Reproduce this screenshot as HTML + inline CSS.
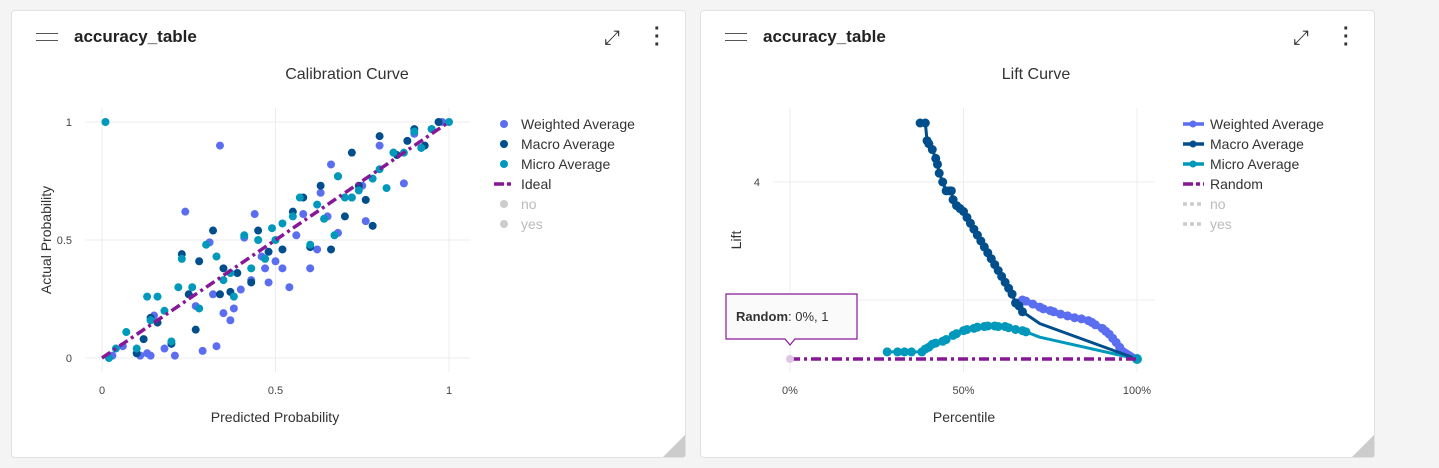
<!DOCTYPE html>
<html><head><meta charset="utf-8">
<style>
body{margin:0;width:1439px;height:468px;background:#f4f4f4;font-family:"Liberation Sans",sans-serif;overflow:hidden;position:relative}
.card{position:absolute;top:10px;height:446px;background:#fff;border:1px solid #e1e1e1;border-radius:4px}
.hdr{position:absolute;left:62px;top:16px;font-size:17px;font-weight:bold;color:#222}
.ham{position:absolute;left:24px;top:22px;width:22px;height:6px;border-top:1.5px solid #555;border-bottom:1.5px solid #555}
.exp{position:absolute;top:16px;font-size:20px;color:#333}
.dots{position:absolute;top:14px;font-size:20px;font-weight:bold;color:#333;line-height:8px;width:6px}
.corner{position:absolute;right:0;bottom:0;width:0;height:0;border-left:22px solid transparent;border-bottom:22px solid #ccc}
svg{position:absolute;left:0;top:0}
</style></head><body>
<div class="card" style="left:11px;width:673px">
 <div class="ham"></div>
 <div class="hdr">accuracy_table</div>
 <div class="exp" style="left:592px">⤢</div>
 <div class="dots" style="left:642px">·<br>·<br>·</div>
 <div class="corner"></div>
</div>
<div class="card" style="left:700px;width:673px">
 <div class="ham"></div>
 <div class="hdr">accuracy_table</div>
 <div class="exp" style="left:592px">⤢</div>
 <div class="dots" style="left:642px">·<br>·<br>·</div>
 <div class="corner"></div>
</div>
<svg id="s" width="1439" height="468"></svg>
<script>
// Calibration data
const calTicks=[0,0.5,1];
const wX=[0.03,0.06,0.11,0.13,0.14,0.15,0.18,0.21,0.24,0.27,0.29,0.31,0.32,0.33,0.34,0.35,0.37,0.38,0.4,0.41,0.43,0.44,0.46,0.47,0.48,0.5,0.52,0.54,0.56,0.58,0.6,0.62,0.63,0.65,0.66,0.68,0.72,0.75,0.76,0.8,0.84,0.87,0.9,0.95,0.98];
const wY=[0.01,0.05,0.01,0.02,0.01,0.18,0.04,0.01,0.62,0.22,0.03,0.49,0.27,0.05,0.9,0.19,0.16,0.21,0.29,0.51,0.33,0.61,0.43,0.38,0.32,0.41,0.38,0.3,0.52,0.61,0.38,0.46,0.7,0.6,0.82,0.53,0.68,0.73,0.58,0.9,0.87,0.74,0.95,0.97,1.0];
const mX=[0.1,0.12,0.14,0.16,0.2,0.23,0.25,0.27,0.28,0.32,0.34,0.35,0.37,0.39,0.43,0.45,0.48,0.52,0.55,0.58,0.6,0.63,0.66,0.68,0.7,0.72,0.74,0.76,0.78,0.8,0.85,0.88,0.9,0.93,0.97];
const mY=[0.02,0.08,0.17,0.15,0.06,0.44,0.27,0.12,0.41,0.54,0.27,0.38,0.28,0.36,0.32,0.54,0.45,0.46,0.62,0.68,0.47,0.73,0.46,0.77,0.6,0.87,0.73,0.67,0.56,0.94,0.86,0.92,0.97,0.9,1.0];
const iX=[0.01,0.02,0.04,0.07,0.1,0.13,0.14,0.16,0.18,0.2,0.22,0.23,0.26,0.28,0.3,0.33,0.35,0.37,0.38,0.41,0.43,0.45,0.47,0.49,0.5,0.52,0.55,0.57,0.6,0.62,0.64,0.67,0.68,0.7,0.72,0.74,0.78,0.8,0.82,0.84,0.87,0.9,0.92,0.95,1.0];
const iY=[1.0,0.0,0.04,0.11,0.04,0.26,0.16,0.26,0.2,0.07,0.3,0.42,0.3,0.21,0.48,0.43,0.33,0.36,0.26,0.52,0.38,0.5,0.42,0.55,0.5,0.57,0.6,0.68,0.48,0.65,0.59,0.52,0.77,0.68,0.68,0.71,0.76,0.8,0.72,0.87,0.87,0.96,0.89,0.97,1.0];
// Lift data
const liftTicks=[2,4];
const pctTicks=[0,50,100];
const macX=[37.5,39,39.5,40,41,42,42.5,43,44,45,46,46.5,47,48,49,50,51,52,53,54,55,56,57,58,59,60,61,62,63,64,65,66,67,72,100];
const macY=[5.0,5.0,4.7,4.65,4.55,4.4,4.3,4.15,4.0,3.85,3.85,3.85,3.7,3.6,3.55,3.5,3.4,3.3,3.2,3.1,3.0,2.9,2.8,2.7,2.6,2.5,2.4,2.3,2.2,2.1,1.95,1.9,1.8,1.6,1.0];
const wgtX=[66,67,68,70,72,73,75,76,78,80,82,84,86,87,88,90,91,92,93,94,95,96,100];
const wgtY=[1.95,2.0,1.98,1.93,1.88,1.85,1.82,1.8,1.76,1.73,1.7,1.68,1.65,1.62,1.58,1.52,1.47,1.42,1.35,1.28,1.2,1.15,1.0];
const micX=[28,31,33,35,38,39,40,41,42,44,45,47,48,50,51,53,54,56,57,59,60,62,63,65,67,68,72,100];
const micY=[1.12,1.12,1.12,1.12,1.12,1.17,1.2,1.25,1.27,1.3,1.33,1.4,1.43,1.48,1.5,1.52,1.54,1.55,1.56,1.56,1.55,1.55,1.53,1.5,1.48,1.46,1.37,1.0];
const rndX=[0,100];const rndY=[1,1];

const NS="http://www.w3.org/2000/svg",S=document.getElementById('s');
function el(t,a,txt){const e=document.createElementNS(NS,t);for(const k in a)e.setAttribute(k,a[k]);if(txt!==undefined)e.textContent=txt;S.appendChild(e);return e;}
function tx(x,y,s,sz,fill,anchor,extra){const e=el('text',Object.assign({x:x,y:y,'font-size':sz,fill:fill,'text-anchor':anchor||'start','font-family':'Liberation Sans, sans-serif'},extra||{}),s);return e;}

const cx=v=>102+v*347, cy=v=>358-v*236;
calTicks.forEach(t=>{
 const g=el('line',{x1:cx(t),x2:cx(t),y1:108,y2:372,stroke:'#ececec'});
 
 const h=el('line',{x1:85,x2:470,y1:cy(t),y2:cy(t),stroke:'#ececec'});
 
 const a=tx(cx(t),394,String(t),11,'#444','middle');
 const b=tx(72,cy(t)+4,String(t),11,'#444','end');
});
let t1=tx(347,79,'Calibration Curve',16,'#333','middle');
let t2=tx(275,422,'Predicted Probability',14,'#333','middle');
let t3=tx(0,0,'Actual Probability',14,'#333','middle',{transform:'translate(51,240) rotate(-90)'});
function scatter(X,Y,c,n){X.forEach((x,i)=>{const p=el('circle',{cx:cx(x),cy:cy(Y[i]),r:4,fill:c});});}
scatter(wX,wY,'#5b6ef0','weighted-point');scatter(mX,mY,'#004e8c','macro-point');scatter(iX,iY,'#0099bc','micro-point');
let il=el('line',{x1:cx(0),y1:cy(0),x2:cx(1),y2:cy(1),stroke:'#881798','stroke-width':3.5,'stroke-dasharray':'10,4,3,4'});


const lx=v=>790+v*3.47, ly=v=>359-(v-1)*59;
pctTicks.forEach(t=>{
 const g=el('line',{x1:lx(t),x2:lx(t),y1:108,y2:372,stroke:'#ececec'});
 const a=tx(lx(t),394,t+'%',11,'#444','middle');
});
liftTicks.forEach(t=>{
 const h=el('line',{x1:773,x2:1155,y1:ly(t),y2:ly(t),stroke:'#ececec'});
 const b=tx(760,ly(t)+4,String(t),11,'#444','end');
});
let t4=tx(1036,79,'Lift Curve',16,'#333','middle');
let t5=tx(964,422,'Percentile',14,'#333','middle');
let t6=tx(0,0,'Lift',14,'#333','middle',{transform:'translate(741,240) rotate(-90)'});
function line(X,Y,c,n,w){const d=X.map((x,i)=>(i?'L':'M')+lx(x)+','+ly(Y[i])).join('');const p=el('path',{d:d,stroke:c,'stroke-width':w,fill:'none','stroke-linejoin':'round','stroke-linecap':'round'});
 X.slice(0,-2).forEach((x,i)=>{const m=el('circle',{cx:lx(x),cy:ly(Y[i]),r:4.5,fill:c});});}
line(wgtX,wgtY,'#5b6ef0','weighted-lift-line',6);
line(micX,micY,'#0099bc','micro-lift-line',3);
line(macX,macY,'#004e8c','macro-lift-line',3);
let end=el('circle',{cx:lx(100),cy:ly(1),r:5,fill:'#0099bc'});
let rl=el('line',{x1:lx(rndX[0]),y1:ly(rndY[0]),x2:lx(rndX[1]),y2:ly(rndY[1]),stroke:'#881798','stroke-width':3.5,'stroke-dasharray':'10,4,3,4'});

let rp=el('circle',{cx:lx(0),cy:ly(1),r:4,fill:'#e0c6e6'});
let tt=el('path',{d:'M726,294 H857 V339 H795 L790,345 L785,339 H726 Z',fill:'#fafafa',stroke:'#881798','stroke-width':1.2});

let ttt=tx(736,321,'',13,'#333');
ttt.innerHTML='<tspan font-weight="bold">Random</tspan>: 0%, 1';

const legNames=['Weighted Average','Macro Average','Micro Average','Ideal','no','yes'];
const legColors=['#5b6ef0','#004e8c','#0099bc','#881798','#ccc','#ccc'];
const legNames2=['Weighted Average','Macro Average','Micro Average','Random','no','yes'];
legNames.forEach((n,i)=>{const y=124+i*20;
 let m;if(i==3)m=el('line',{x1:494,x2:514,y1:y,y2:y,stroke:legColors[i],'stroke-width':3.5,'stroke-dasharray':'10,3,4,3'});
 else m=el('circle',{cx:504,cy:y,r:4,fill:legColors[i]});
 
 const t=tx(521,y+5,n,14,i>3?'#bbb':'#333');
});
legNames2.forEach((n,i)=>{const y=124+i*20;
 const m=el('line',{x1:1183,x2:1204,y1:y,y2:y,stroke:legColors[i],'stroke-width':3.5,'stroke-dasharray':i==3?'10,3,4,3':(i>3?'4,3':'none')});
 
 if(i<3){const c=el('circle',{cx:1193,cy:y,r:3.5,fill:legColors[i]});}
 const t=tx(1210,y+5,n,14,i>3?'#bbb':'#333');
});
</script>
</body></html>
